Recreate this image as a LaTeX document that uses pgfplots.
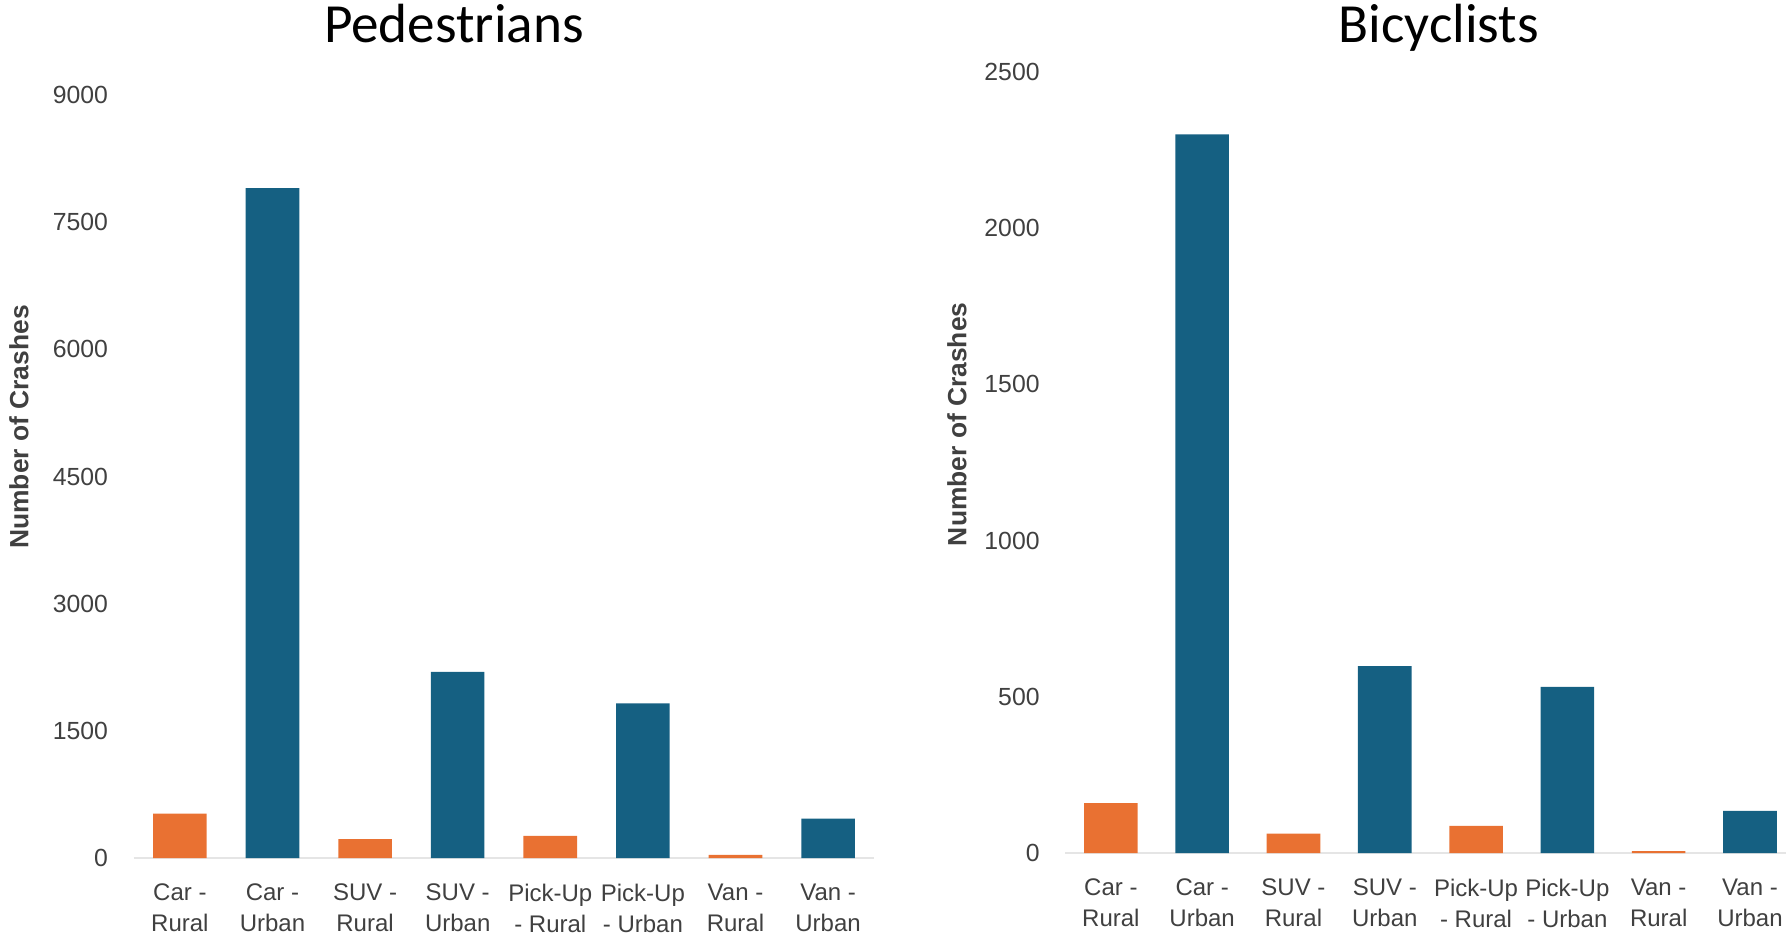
\documentclass[border=0pt]{standalone}
\usepackage{pgfplots}
\pgfplotsset{compat=1.18}
\usepackage{fontspec}
\setmainfont{Liberation Sans}
\newfontfamily\titlefont{Carlito}
\definecolor{ruralc}{HTML}{E97132}
\definecolor{urbanc}{HTML}{156082}
\definecolor{txt}{HTML}{404040}

\pgfplotsset{
  crashstyle/.style={
    scale only axis,
    ybar, bar width=13.4pt, bar shift=0pt,
    xmin=-0.5, ymin=0,
    enlargelimits=false,
    xtick={0,...,7},
    xticklabels={{Car -\\Rural},{Car -\\Urban},{SUV -\\Rural},{SUV -\\Urban},{Pick-Up\\- Rural},{Pick-Up\\- Urban},{Van -\\Rural},{Van -\\Urban}},
    xticklabel style={align=center, font=\fontsize{6}{7.8}\selectfont, text=txt, inner sep=0pt, anchor=north, yshift=-6.25pt},
    yticklabel style={font=\fontsize{6.2}{7}\selectfont, text=txt, inner sep=0pt, anchor=east, xshift=-6.2pt},
    /pgf/number format/assume math mode=true,
    /pgf/number format/set thousands separator={},
    scaled y ticks=false,
    major tick length=0pt,
    separate axis lines,
    axis x line*=bottom, axis y line*=left,
    x axis line style={draw=black!10, line width=0.6pt},
    y axis line style={draw=none},
    ylabel={Number of Crashes},
    ylabel style={font=\bfseries\fontsize{6.6}{8}\selectfont, text=txt, anchor=center},
    title style={font=\titlefont\fontsize{13.8}{16}\selectfont, anchor=base, yshift=-6pt, inner sep=0pt, text=black},
  }
}

\begin{document}
\begin{tikzpicture}
\useasboundingbox (0,0) rectangle (446.5pt,236.25pt);

\begin{axis}[crashstyle,
  at={(33.4pt,21.75pt)}, anchor=south west,
  width=185.2pt, height=190.75pt,
  xmax=7.5, ymax=9000,
  ytick={0,1500,3000,4500,6000,7500,9000},
  title={Pedestrians},
  title style={at={(axis description cs:0.4324,1.0695)}},
  ylabel style={at={(axis description cs:-0.1548,0.565)}},
]
\addplot[fill=ruralc, draw=none] coordinates {(0,525) (2,222) (4,262) (6,36)};
\addplot[fill=urbanc, draw=none] coordinates {(1,7903) (3,2195) (5,1824) (7,466)};
\end{axis}

\begin{axis}[crashstyle,
  at={(266.3pt,23pt)}, anchor=south west,
  width=180.1pt, height=195.25pt,
  xmax=7.39, ymax=2500,
  ytick={0,500,1000,1500,2000,2500},
  title={Bicyclists},
  title style={at={(axis description cs:0.5187,1.0378)}},
  ylabel style={at={(axis description cs:-0.1504,0.549)}},
]
\addplot[fill=ruralc, draw=none] coordinates {(0,160) (2,62) (4,87) (6,6)};
\addplot[fill=urbanc, draw=none] coordinates {(1,2300) (3,598) (5,532) (7,135)};
\end{axis}
\end{tikzpicture}
\end{document}
